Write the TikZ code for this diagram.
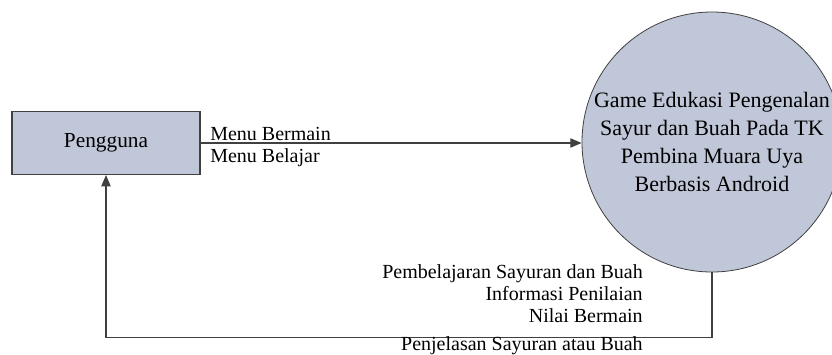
\documentclass[tikz,border=0pt]{standalone}
\usepackage{fontspec}
\setmainfont{Liberation Serif}
\usetikzlibrary{arrows.meta}

\definecolor{procfill}{RGB}{192,199,216}
\definecolor{lineclr}{RGB}{64,64,64}

\begin{document}
\begin{tikzpicture}[x=0.75pt, y=-0.75pt,
  >={Triangle[length=8.5pt,width=7pt]},
  entity/.style={draw=lineclr, line width=1pt, fill=procfill, minimum width=141pt, minimum height=47pt},
  process/.style={circle, draw=lineclr, line width=0.6pt, fill=procfill, minimum size=195pt, inner sep=0pt, align=center},
  flow/.style={->, line width=0.9pt, color=lineclr},
  flowlabel/.style={inner sep=0pt, font=\fontsize{15}{16.5}\selectfont}]
\useasboundingbox (0,0) rectangle (832,354);

% External entity
\node[entity, font=\fontsize{16}{19}\selectfont] (pengguna) at (106,143) {Pengguna};

% Process
\node[process, font=\fontsize{16.5}{20.8}\selectfont] (game) at (712,142)
  {Game Edukasi Pengenalan\\Sayur dan Buah Pada TK\\Pembina Muara Uya\\Berbasis Android};

% Flow from user to system
\draw[flow] (pengguna) -- (pengguna -| game.west);
\node[flowlabel, anchor=north west, align=left] (menu) at (210,127) {Menu Bermain\\Menu Belajar};

% Flow from system back to user
\draw[flow] (game.south) -- ++(0,65) -| (pengguna.south);
\node[flowlabel, anchor=north east, align=right] (hasil) at (643,264)
  {Pembelajaran Sayuran dan Buah\\Informasi Penilaian\\Nilai Bermain\\[4.5pt]Penjelasan Sayuran atau Buah};

\end{tikzpicture}
\end{document}
